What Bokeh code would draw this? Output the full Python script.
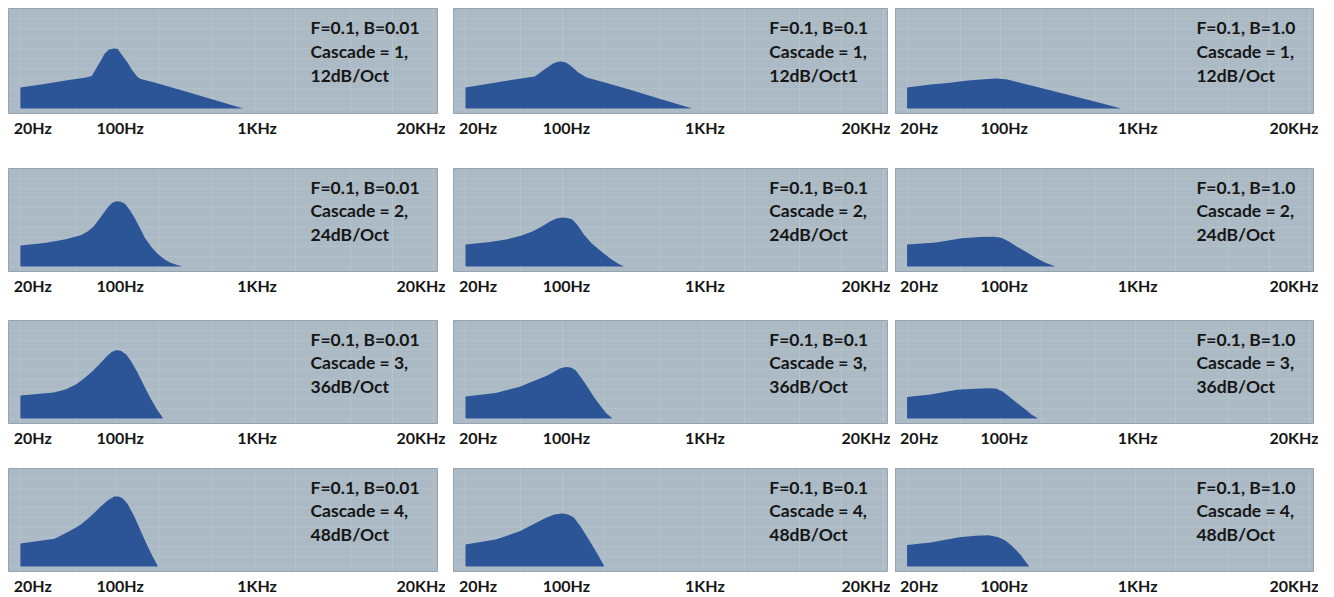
from bokeh.plotting import figure
from bokeh.layouts import column, row
from bokeh.models import FixedTicker, Range1d, Label, ColumnDataSource
from bokeh.embed import file_html
from bokeh.resources import INLINE

# ---------------- data ----------------
# x: frequency in Hz (log axis), y: level above the floor (plot units)
c1_b001_freq = [20, 30, 45, 60, 66, 71, 77, 82, 88, 96, 102, 110, 120, 130, 143, 150, 200, 300, 500, 830]
c1_b001_level = [21, 24.5, 28.5, 31, 32.5, 40, 48, 55, 59, 60, 59.5, 53, 46, 38, 31, 29.5, 25, 18, 9, 0]
c1_b01_freq = [20, 30, 50, 63, 72, 85, 92, 98, 105, 113, 120, 129, 148, 200, 300, 500, 850]
c1_b01_level = [21, 25, 30, 32, 38, 45, 46.7, 47, 46, 43, 40, 36, 31, 26, 19, 9.5, 0]
c1_b1_freq = [20, 30, 40, 57, 80, 94, 112, 200, 300, 500, 790]
c1_b1_level = [21, 24, 25.5, 28, 29.5, 30, 29, 20.5, 14.5, 7, 0]

c2_b001_freq = [20, 30, 42, 55, 62, 68, 74, 80, 87, 93, 100, 107, 115, 125, 136, 148, 161, 180, 200, 225, 247, 275, 303]
c2_b001_level = [21.5, 24, 27.5, 32, 36, 41, 47.5, 54, 61, 65, 66.5, 66, 64, 57.5, 49, 39, 29, 19.5, 12.5, 7, 4, 1.5, 0]
c2_b01_freq = [20, 30, 40, 50, 61, 70, 81, 90, 99, 108, 117, 128, 141, 160, 187, 220, 250, 275]
c2_b01_level = [22.5, 25, 28, 31.5, 36, 40.5, 46, 49, 50, 49.5, 48, 42, 33, 24, 16, 8, 3, 0]
c2_b1_freq = [20, 33, 51, 70, 88, 101, 115, 131, 155, 182, 215, 255]
c2_b1_level = [22.5, 24.5, 29, 30.2, 30.5, 29.5, 25.5, 20.5, 15, 9, 4, 0]

c3_b001_freq = [20, 35, 43, 51, 58, 67, 75, 85, 92, 100, 108, 118, 128, 140, 155, 175, 195, 218]
c3_b001_level = [23.5, 26.5, 30, 35, 41, 48.5, 55.5, 63.5, 68, 70, 69, 65, 58, 48.5, 36, 21.5, 10, 0]
c3_b01_freq = [20, 33, 49, 65, 76, 86, 95, 105, 114, 123, 135, 150, 167, 187, 205, 227]
c3_b01_level = [22.5, 26, 32.5, 39.5, 43.5, 47.5, 51, 52.5, 52, 49.5, 42, 32.5, 22, 12.5, 5.5, 0]
c3_b1_freq = [20, 30, 47, 65, 83, 93, 103, 115, 132, 152, 170, 190]
c3_b1_level = [22, 24.5, 29.5, 30.5, 31, 30.5, 27.5, 22.5, 16, 9.5, 4, 0]

c4_b001_freq = [20, 35.5, 49, 55, 61.5, 69, 77, 86, 96, 103, 110, 120, 134, 150, 167, 183, 200]
c4_b001_level = [23.5, 28.5, 38.5, 43, 48.5, 55, 61.5, 67.5, 71.5, 71.5, 70, 64, 51.5, 36, 21.5, 10, 0]
c4_b01_freq = [20, 33, 49, 65, 75, 87, 99, 109, 120, 134, 150, 175, 199]
c4_b01_level = [22.5, 27.5, 36, 45, 49.5, 53, 54, 53, 50, 41, 30, 14, 0]
c4_b1_freq = [20, 30, 49, 65, 81, 96, 108, 120, 131, 141, 152, 163]
c4_b1_level = [22, 24.5, 30, 31.5, 32, 30, 26.5, 21.5, 16.5, 11.5, 5.5, 0]

f_label = "F=0.1"
b_labels = ["B=0.01", "B=0.1", "B=1.0"]
cascades = [1, 2, 3, 4]
slopes = ["12dB/Oct", "24dB/Oct", "36dB/Oct", "48dB/Oct"]
slope_overrides = {(0, 1): "12dB/Oct1"}  # as printed in the original

tick_values = [20, 100, 1000, 20000]
tick_labels = ["20Hz", "100Hz", "1KHz", "20KHz"]

curves = [
    [(c1_b001_freq, c1_b001_level), (c1_b01_freq, c1_b01_level), (c1_b1_freq, c1_b1_level)],
    [(c2_b001_freq, c2_b001_level), (c2_b01_freq, c2_b01_level), (c2_b1_freq, c2_b1_level)],
    [(c3_b001_freq, c3_b001_level), (c3_b01_freq, c3_b01_level), (c3_b1_freq, c3_b1_level)],
    [(c4_b001_freq, c4_b001_level), (c4_b01_freq, c4_b01_level), (c4_b1_freq, c4_b1_level)],
]

# ---------------- styling / layout ----------------
X_START, X_END = 16.4, 21400
Y_START, Y_END = -5, 100
BG = "#abbac5"
FILL = "#2c5597"
TXT = "#161616"
FONT = "Lato"

col_frame_w = [429, 434, 418]
col_left = [8, 8, 5]
col_right = [8, 3, 5]
row_frame_h = [105, 103, 103, 103]
row_top = [8, 2, 2, 1]
row_bottom = [53, 47, 44, 22]
text_x = [2560, 3030, 2870]

# label nudges (in decades) so the edge labels sit inside the panel as in the original
nudge = [0.09, 0.025, 0.02, -0.09]
tick_pos = [v * 10 ** n for v, n in zip(tick_values, nudge)]
overrides = {p: t for p, t in zip(tick_pos, tick_labels)}

grid_ticks = [20, 50, 100, 200, 500, 1000, 2000, 5000, 10000, 20000]

rows = []
for r in range(4):
    figs = []
    for c in range(3):
        freq, level = curves[r][c]
        p = figure(
            x_axis_type="log",
            x_range=Range1d(X_START, X_END),
            y_range=Range1d(Y_START, Y_END),
            frame_width=col_frame_w[c],
            frame_height=row_frame_h[r],
            y_axis_location=None,
            output_backend="svg",
            toolbar_location=None,
        )
        p.min_border_left = col_left[c]
        p.min_border_right = col_right[c]
        p.min_border_top = row_top[r]
        p.min_border_bottom = row_bottom[r]
        p.background_fill_color = BG
        p.border_fill_color = "white"
        p.outline_line_color = "#95a4b0"
        p.outline_line_width = 1

        p.xgrid.ticker = FixedTicker(ticks=grid_ticks)
        p.xgrid.grid_line_color = "white"
        p.xgrid.grid_line_alpha = 0.13
        p.ygrid.ticker = FixedTicker(ticks=list(range(0, 101, 10)))
        p.ygrid.grid_line_color = "white"
        p.ygrid.grid_line_alpha = 0.09

        src = ColumnDataSource(dict(freq=freq, level=level))
        p.varea(x="freq", y1=0, y2="level", source=src, fill_color=FILL, fill_alpha=1)

        ax = p.xaxis[0]
        ax.ticker = FixedTicker(ticks=tick_pos)
        ax.major_label_overrides = overrides
        ax.axis_line_color = None
        ax.major_tick_line_color = None
        ax.minor_tick_line_color = None
        ax.major_tick_out = 0
        ax.major_label_standoff = 4
        ax.major_label_text_font = FONT
        ax.major_label_text_font_style = "bold"
        ax.major_label_text_font_size = "16px"
        ax.major_label_text_color = TXT

        slope = slope_overrides.get((r, c), slopes[r])
        lines = [f"{f_label}, {b_labels[c]}", f"Cascade = {cascades[r]},", slope]
        for i, t in enumerate(lines):
            p.add_layout(Label(
                x=text_x[c], y=81 - 24 * i, text=t,
                text_font=FONT, text_font_style="bold", text_font_size="17.5px",
                text_color=TXT, text_align="left", text_baseline="alphabetic",
            ))
        figs.append(p)
    rows.append(row(*figs, spacing=0))

layout = column(*rows, spacing=0)
open("out.html", "w").write(file_html(layout, INLINE))
